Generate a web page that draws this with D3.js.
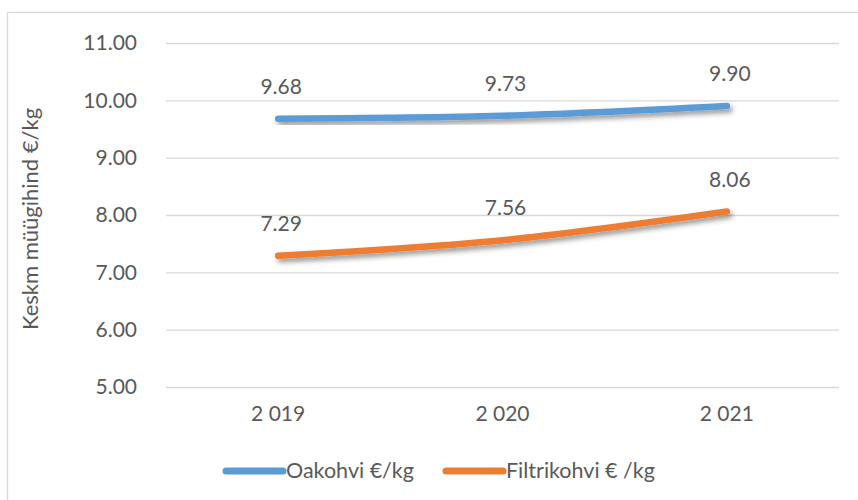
<!DOCTYPE html>
<html>
<head>
<meta charset="utf-8">
<script src="https://cdn.jsdelivr.net/npm/d3@7"></script>
<style>
  html, body { margin: 0; padding: 0; background: #fff; }
  svg { display: block; }
  text { font-family: Lato, "Open Sans", sans-serif; fill: #595959; }
</style>
</head>
<body>
<svg id="chart" width="858" height="500"></svg>
<script>
// Average selling price of coffee, €/kg
const years = ["2 019", "2 020", "2 021"];
const oakohvi = [9.68, 9.73, 9.90];
const filtrikohvi = [7.29, 7.56, 8.06];
const yTicks = [5, 6, 7, 8, 9, 10, 11];
const seriesNames = ["Oakohvi €/kg", "Filtrikohvi € /kg"];
const seriesColors = ["#5B9BD5", "#ED7D31"];
const yTitle = "Keskm müügihind €/kg";

const svg = d3.select("#chart");
const margin = { left: 166, right: 19, top: 43, bottom: 113 };
const W = 858, H = 500;

// outer chart frame
svg.append("rect")
  .attr("x", 7.5).attr("y", 12.5)
  .attr("width", 870).attr("height", 520)
  .attr("fill", "none").attr("stroke", "#D9D9D9").attr("stroke-width", 1.3);

const x = d3.scaleBand().domain(years).range([margin.left, W - margin.right]);
const y = d3.scaleLinear().domain([5, 11]).range([H - margin.bottom, margin.top]);

// drop shadow for the series lines
const defs = svg.append("defs");
const f = defs.append("filter").attr("id", "shadow")
  .attr("x", "-10%").attr("y", "-50%").attr("width", "120%").attr("height", "200%");
f.append("feDropShadow").attr("dx", 2.5).attr("dy", 3.5).attr("stdDeviation", 2.5)
  .attr("flood-color", "#000").attr("flood-opacity", 0.4);

// horizontal gridlines + y tick labels
const yAxis = d3.axisLeft(y).tickValues(yTicks)
  .tickSize(-(W - margin.left - margin.right))
  .tickPadding(29)
  .tickFormat(d3.format(".2f"));
const gy = svg.append("g").attr("transform", `translate(${margin.left},0)`).call(yAxis);
gy.select(".domain").remove();
gy.selectAll(".tick line").attr("stroke", "#D9D9D9").attr("stroke-width", 1.3);
gy.selectAll(".tick text").attr("font-size", 21).style("fill", "#595959")
  .attr("font-family", "Lato, 'Open Sans', sans-serif");

// category labels
const xAxis = d3.axisBottom(x).tickSize(0).tickPadding(19);
const gx = svg.append("g").attr("transform", `translate(0,${H - margin.bottom})`).call(xAxis);
gx.select(".domain").remove();
gx.selectAll(".tick text").attr("font-size", 21).style("fill", "#595959")
  .attr("font-family", "Lato, 'Open Sans', sans-serif");

// y axis title
svg.append("text")
  .attr("transform", `translate(38,${(y(5) + y(11)) / 2 + 4}) rotate(-90)`)
  .attr("text-anchor", "middle")
  .attr("font-size", 22)
  .text(yTitle);

const line = d3.line()
  .x((d, i) => x(years[i]) + x.bandwidth() / 2)
  .y(d => y(d))
  .curve(d3.curveCatmullRom.alpha(0.5));

[oakohvi, filtrikohvi].forEach((vals, s) => {
  svg.append("path")
    .datum(vals)
    .attr("d", line)
    .attr("fill", "none")
    .attr("stroke", seriesColors[s])
    .attr("stroke-width", 6.5)
    .attr("stroke-linecap", "round")
    .attr("filter", "url(#shadow)");

  svg.append("g").selectAll("text")
    .data(vals)
    .join("text")
    .attr("x", (d, i) => x(years[i]) + x.bandwidth() / 2 + 3)
    .attr("y", d => y(d) - 25)
    .attr("text-anchor", "middle")
    .attr("font-size", 21)
    .text(d => d3.format(".2f")(d));
});

// legend
const legendItems = [
  { x0: 226, x1: 283, tx: 286 },
  { x0: 446, x1: 503, tx: 506 }
];
legendItems.forEach((p, s) => {
  svg.append("line")
    .attr("x1", p.x0).attr("x2", p.x1)
    .attr("y1", 471).attr("y2", 471)
    .attr("stroke", seriesColors[s]).attr("stroke-width", 7)
    .attr("stroke-linecap", "round");
  svg.append("text")
    .attr("x", p.tx).attr("y", 478)
    .attr("font-size", 21.5)
    .text(seriesNames[s]);
});
</script>
</body>
</html>
